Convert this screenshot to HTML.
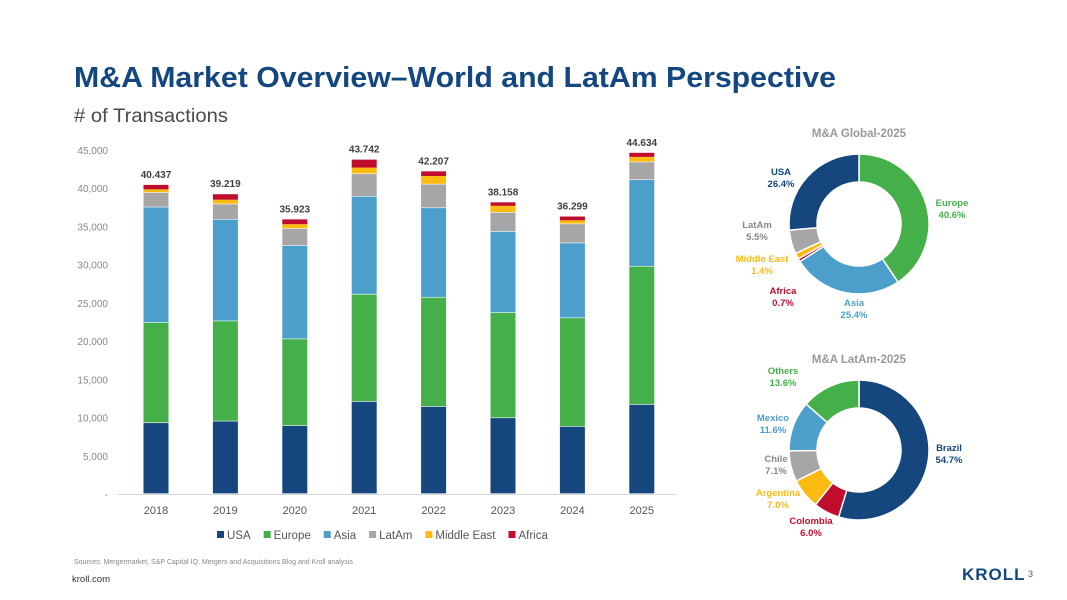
<!DOCTYPE html>
<html><head><meta charset="utf-8"><style>
html,body{margin:0;padding:0;background:#fff;width:1067px;height:600px;overflow:hidden;font-family:"Liberation Sans",sans-serif}
</style></head><body>
<svg id="s" width="1067" height="600" viewBox="0 0 1067 600" xmlns="http://www.w3.org/2000/svg" font-family="Liberation Sans, sans-serif">
<text x="74" y="87" font-size="29" font-weight="bold" fill="#14477f" textLength="762" lengthAdjust="spacingAndGlyphs">M&amp;A Market Overview–World and LatAm Perspective</text>
<text x="74" y="122" font-size="19" fill="#4a4a4a" textLength="154" lengthAdjust="spacingAndGlyphs"># of Transactions</text>
<g id="bars"></g>
<g id="donut1"></g>
<g id="donut2"></g>
<text x="74" y="564" font-size="7" fill="#888">Sources: Mergermarket, S&amp;P Capital IQ, Mergers and Acquisitions Blog and Kroll analysis</text>
<text x="72" y="582" font-size="9.5" fill="#333">kroll.com</text>
<text x="962" y="580" font-size="17" font-weight="bold" fill="#14477f" letter-spacing="1">KROLL</text>
<text x="1028" y="577" font-size="9" fill="#555">3</text>
</svg>
<script>
const years=["2018","2019","2020","2021","2022","2023","2024","2025"];
const usa=[9280,9500,8900,12060,11400,9930,8800,11670];
const europe=[13120,13100,11350,14040,14300,13770,14200,18080];
const asia=[15100,13300,12200,12800,11700,10600,9800,11320];
const latam=[1900,2000,2250,2950,3100,2500,2500,2330];
const middleEast=[450,600,600,850,1100,900,500,700];
const totals=[40437,39219,35923,43742,42207,38158,36299,44634];
const totalLabels=["40.437","39.219","35.923","43.742","42.207","38.158","36.299","44.634"];
const yTicks=[0,5000,10000,15000,20000,25000,30000,35000,40000,45000];
const yTickLabels=["-","5,000","10,000","15,000","20,000","25,000","30,000","35,000","40,000","45,000"];
const seriesNames=["USA","Europe","Asia","LatAm","Middle East","Africa"];
const seriesColors=["#16467e","#45b04a","#4c9fcb","#a6a6a6","#fbbb10","#c00d2d"];
const globalLabels=["Europe","Asia","Africa","Middle East","LatAm","USA"];
const globalValues=[40.6,25.4,0.7,1.4,5.5,26.4];
const globalColors=["#45b04a","#4c9fcb","#c00d2d","#fbbb10","#a6a6a6","#16467e"];
const latLabels=["Brazil","Colombia","Argentina","Chile","Mexico","Others"];
const latValues=[54.7,6.0,7.0,7.1,11.6,13.6];
const latColors=["#16467e","#c00d2d","#fbbb10","#a6a6a6","#4c9fcb","#45b04a"];

const NS="http://www.w3.org/2000/svg";
function mk(tag,attrs,parent){const e=document.createElementNS(NS,tag);for(const k in attrs)e.setAttribute(k,attrs[k]);parent.appendChild(e);return e;}
const y=v=>494-v*(344/45000);
const x=i=>156+i*69.4;
const g=document.getElementById('bars');
yTicks.forEach((t,i)=>{const el=mk('text',{x:108,y:y(t)+4,'font-size':10,fill:'#888','text-anchor':'end'},g);el.textContent=yTickLabels[i];

});
const ax=mk('line',{x1:118,x2:677,y1:494.5,y2:494.5,stroke:'#d9d9d9','stroke-width':1},g);


years.forEach((yr,i)=>{
  const segs=[usa[i],europe[i],asia[i],latam[i],middleEast[i]];
  const sum=segs.reduce((a,b)=>a+b,0);
  segs.push(Math.max(totals[i]-sum,0));
  let base=0;
  segs.forEach((v,k)=>{
    const r=mk('rect',{x:x(i)-12.5,width:25,y:y(base+v),height:Math.max(y(base)-y(base+v)-(k<5?0.6:0),0),fill:seriesColors[k]},g);
    
    
    base+=v;
  });
  const tl=mk('text',{x:x(i),y:y(totals[i])-7,'font-size':10,'font-weight':'bold',fill:'#404040','text-anchor':'middle'},g);tl.textContent=totalLabels[i];
  
  
  const xl=mk('text',{x:x(i),y:514,'font-size':11,fill:'#555','text-anchor':'middle'},g);xl.textContent=yr;
  
  
});
let lx=217;
seriesNames.forEach((n,k)=>{
  const sw=mk('rect',{x:lx,y:531,width:7,height:7,fill:seriesColors[k]},g);
  
  
  const t=mk('text',{x:lx+10,y:539,'font-size':11.5,fill:'#555'},g);t.textContent=n;
  
  
  lx+=10+t.getComputedTextLength()+13;
});
function donut(gid,title,cx,cy,vals,cols,labs,labPos){
  const d=document.getElementById(gid);
  const tt=mk('text',{x:cx,y:cy-87,'font-size':11.5,'font-weight':'bold',fill:'#999','text-anchor':'middle'},d);tt.textContent=title;
  
  
  const R=70,r=42,tot=vals.reduce((a,b)=>a+b,0);let a0=-Math.PI/2;
  vals.forEach((v,k)=>{
    const a1=a0+v/tot*2*Math.PI,lg=(a1-a0)>Math.PI?1:0;
    const p=`M${cx+R*Math.cos(a0)},${cy+R*Math.sin(a0)} A${R},${R} 0 ${lg} 1 ${cx+R*Math.cos(a1)},${cy+R*Math.sin(a1)} L${cx+r*Math.cos(a1)},${cy+r*Math.sin(a1)} A${r},${r} 0 ${lg} 0 ${cx+r*Math.cos(a0)},${cy+r*Math.sin(a0)}Z`;
    const s=mk('path',{d:p,fill:cols[k],stroke:'#fff','stroke-width':1.5},d);
    
    
    const [lxp,lyp]=labPos[k];
    const t=mk('text',{x:lxp,y:lyp,'font-size':9.5,'font-weight':'bold',fill:cols[k]==='#a6a6a6'?'#888':cols[k],'text-anchor':'middle'},d);
    mk('tspan',{x:lxp,dy:0},t).textContent=labs[k];
    mk('tspan',{x:lxp,dy:12},t).textContent=v.toFixed(1)+'%';
    
    
    a0=a1;
  });
}
donut('donut1','M&A Global-2025',859,224,globalValues,globalColors,globalLabels,
 [[952,206],[854,306],[783,294],[762,262],[757,228],[781,175]]);
donut('donut2','M&A LatAm-2025',859,450,latValues,latColors,latLabels,
 [[949,451],[811,524],[778,496],[776,462],[773,421],[783,374]]);
</script>
</body></html>
